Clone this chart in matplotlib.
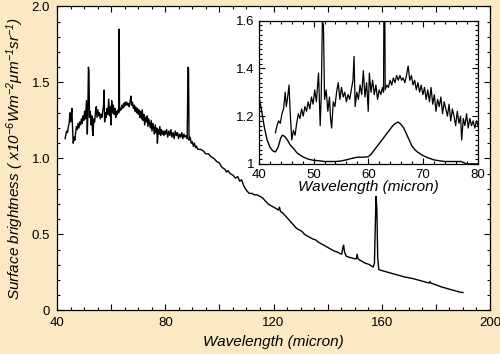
import numpy as np
import matplotlib
matplotlib.use("Agg")
import matplotlib.pyplot as plt
from matplotlib.ticker import MultipleLocator, FixedLocator, FuncFormatter

plt.rcParams['font.family'] = ['Liberation Sans', 'DejaVu Sans']
plt.rcParams['mathtext.fontset'] = 'custom'
plt.rcParams['mathtext.rm'] = 'Liberation Sans:italic'
plt.rcParams['mathtext.it'] = 'Liberation Sans:italic'

# --- full spectrum (wavelength in micron, surface brightness) ---------------
wl = [43.0, 43.3, 43.6, 43.9, 44.2, 44.5, 44.8, 45.0, 45.2, 45.5, 45.7, 46.0,
      46.3, 46.6, 46.9, 47.2, 47.5, 47.8, 48.1, 48.4, 48.7, 49.0, 49.3, 49.6,
      49.9, 50.2, 50.5, 50.9, 51.2, 51.4, 51.6, 51.8, 52.0, 52.3, 52.6, 52.9,
      53.1, 53.3, 53.6, 53.9, 54.2, 54.5, 54.8, 55.1, 55.4, 55.7, 56.0, 56.3,
      56.6, 56.9, 57.2, 57.4, 57.6, 57.9, 58.2, 58.5, 58.8, 59.1, 59.4, 59.7,
      60.0, 60.2, 60.5, 60.8, 61.1, 61.4, 61.7, 62.0, 62.3, 62.6, 62.8, 62.9,
      63.0, 63.1, 63.4, 63.7, 64.0, 64.3, 64.6, 64.9, 65.2, 65.5, 65.8, 66.1,
      66.4, 66.7, 67.0, 67.3, 67.6, 67.9, 68.2, 68.5, 68.8, 69.1, 69.4, 69.7,
      70.0, 70.3, 70.6, 70.9, 71.2, 71.5, 71.8, 72.1, 72.4, 72.7, 73.0, 73.3,
      73.6, 73.9, 74.2, 74.5, 74.8, 75.1, 75.4, 75.7, 76.0, 76.3, 76.6, 76.9,
      77.1, 77.4, 77.7, 78.0, 78.3, 78.6, 78.9, 79.2, 79.5, 79.8, 80.1, 80.5,
      80.9, 81.3, 81.7, 82.1, 82.5, 82.9, 83.3, 83.7, 84.1, 84.5, 84.9, 85.3,
      85.7, 86.1, 86.5, 86.9, 87.3, 87.7, 88.1, 88.4, 88.6, 88.8, 89.2, 89.6,
      90.0, 90.4, 90.8, 91.2, 91.6, 92.0, 93.0, 94.0, 95.0, 96.0, 97.0, 98.0,
      99.0, 100.0, 101.0, 102.0, 102.6, 103.2, 104.0, 105.0, 106.0, 106.8,
      107.5, 108.2, 109.0, 110.0, 111.0, 112.0, 113.0, 114.0, 115.0, 116.0,
      117.0, 118.0, 119.0, 120.0, 121.0, 121.8, 122.2, 122.6, 123.5, 124.5,
      125.5, 126.5, 127.5, 128.5, 129.5, 130.5, 131.5, 132.5, 133.5, 134.5,
      135.5, 136.5, 137.5, 138.5, 139.5, 140.5, 141.5, 142.5, 143.5, 144.5,
      145.2, 145.6, 145.9, 146.3, 147.0, 148.0, 149.0, 150.0, 150.6, 150.9,
      151.2, 152.0, 153.0, 154.0, 155.0, 156.0, 156.8, 157.3, 157.6, 157.9,
      158.2, 158.5, 158.9, 159.5, 160.5, 161.5, 162.5, 163.5, 164.5, 165.5,
      166.5, 167.5, 168.5, 169.5, 170.5, 171.5, 172.5, 173.5, 174.5, 175.5,
      176.5, 177.5, 177.8, 178.2, 179.0, 180.0, 181.0, 182.0, 183.0, 184.0,
      185.0, 186.0, 187.0, 188.0, 189.0, 190.0]
sb = [1.13, 1.16, 1.18, 1.17, 1.21, 1.23, 1.30, 1.24, 1.27, 1.33, 1.22, 1.10,
      1.14, 1.12, 1.17, 1.21, 1.19, 1.23, 1.20, 1.24, 1.22, 1.26, 1.23, 1.28,
      1.25, 1.31, 1.26, 1.38, 1.16, 1.29, 1.60, 1.58, 1.27, 1.31, 1.22, 1.28,
      1.19, 1.15, 1.26, 1.24, 1.30, 1.34, 1.27, 1.32, 1.28, 1.30, 1.26, 1.29,
      1.27, 1.31, 1.35, 1.45, 1.24, 1.30, 1.27, 1.33, 1.29, 1.39, 1.28, 1.34,
      1.22, 1.38, 1.30, 1.35, 1.29, 1.33, 1.27, 1.31, 1.29, 1.32, 1.30, 1.85,
      1.84, 1.31, 1.33, 1.32, 1.35, 1.33, 1.36, 1.34, 1.37, 1.35, 1.37, 1.35,
      1.36, 1.34, 1.37, 1.41, 1.35, 1.37, 1.33, 1.35, 1.31, 1.34, 1.30, 1.33,
      1.29, 1.32, 1.27, 1.31, 1.26, 1.32, 1.25, 1.29, 1.22, 1.27, 1.24, 1.28,
      1.21, 1.26, 1.23, 1.20, 1.25, 1.18, 1.23, 1.20, 1.16, 1.22, 1.17, 1.20,
      1.10, 1.19, 1.16, 1.21, 1.15, 1.19, 1.16, 1.18, 1.15, 1.18, 1.16, 1.19,
      1.14, 1.18, 1.15, 1.19, 1.14, 1.17, 1.13, 1.18, 1.15, 1.17, 1.13, 1.16,
      1.14, 1.17, 1.13, 1.16, 1.14, 1.15, 1.13, 1.60, 1.59, 1.12, 1.14, 1.10,
      1.11, 1.08, 1.10, 1.07, 1.08, 1.06, 1.06, 1.05, 1.03, 1.03, 1.01, 1.00,
      0.98, 0.97, 0.94, 0.93, 0.91, 0.92, 0.90, 0.89, 0.87, 0.88,
      0.85, 0.86, 0.82, 0.79, 0.77, 0.77, 0.76, 0.76, 0.75, 0.74,
      0.72, 0.70, 0.69, 0.68, 0.67, 0.66, 0.68, 0.65, 0.64, 0.62,
      0.60, 0.58, 0.56, 0.54, 0.53, 0.52, 0.50, 0.49, 0.48, 0.47,
      0.465, 0.45, 0.44, 0.43, 0.42, 0.41, 0.40, 0.39, 0.385, 0.375,
      0.37, 0.41, 0.43, 0.38, 0.355, 0.35, 0.345, 0.34, 0.34, 0.37,
      0.34, 0.33, 0.32, 0.31, 0.305, 0.295, 0.285, 0.31, 0.55, 0.75,
      0.66, 0.35, 0.27, 0.265, 0.26, 0.255, 0.25, 0.245, 0.24, 0.235,
      0.23, 0.225, 0.22, 0.217, 0.213, 0.21, 0.205, 0.20, 0.195, 0.19,
      0.185, 0.18, 0.19, 0.18, 0.175, 0.168, 0.162, 0.155, 0.15, 0.145,
      0.14, 0.135, 0.13, 0.125, 0.12, 0.118]

# --- smooth lower curve shown only in the inset -----------------------------
wl_low = [40.0, 40.5, 41.0, 41.5, 42.0, 42.5, 43.0, 43.5, 44.0, 44.3, 44.7,
          45.2, 45.7, 46.3, 47.0, 48.0, 49.0, 50.0, 51.0, 52.0, 53.0, 54.0,
          55.0, 56.0, 57.0, 58.0, 59.0, 60.0, 60.5, 61.0, 61.5, 62.0, 62.5,
          63.0, 63.5, 64.0, 64.5, 65.0, 65.5, 66.0, 66.5, 67.0, 67.5, 68.0,
          68.5, 69.0, 70.0, 71.0, 72.0, 73.0, 74.0, 75.0, 76.0, 77.0, 77.5,
          78.0, 79.0, 80.0]
sb_low = [1.28, 1.22, 1.15, 1.10, 1.07, 1.055, 1.05, 1.07, 1.11, 1.12, 1.115,
          1.10, 1.08, 1.065, 1.045, 1.03, 1.02, 1.015, 1.013, 1.01, 1.01, 1.01,
          1.012, 1.017, 1.023, 1.028, 1.028, 1.03, 1.04, 1.055, 1.07, 1.085, 1.10,
          1.115, 1.13, 1.145, 1.16, 1.17, 1.175, 1.165, 1.15, 1.125, 1.10, 1.075,
          1.06, 1.05, 1.035, 1.025, 1.017, 1.013, 1.01, 1.01, 1.01, 1.01, 1.005,
          1.0, 1.0, 1.0]

BG = "#fce8c3"
fig = plt.figure(figsize=(5.0, 3.54), dpi=100, facecolor=BG)

# === main panel =============================================================
ax = fig.add_axes([0.114, 0.123, 0.866, 0.859])
ax.plot(wl, sb, color="k", lw=1.0)
ax.set_xlim(40, 200); ax.set_ylim(0, 2.0)
ax.xaxis.set_major_locator(FixedLocator([40, 60, 80, 100, 120, 140, 160, 180, 200]))
ax.xaxis.set_minor_locator(MultipleLocator(5))
ax.xaxis.set_major_formatter(FuncFormatter(lambda v, p: f"{v:.0f}" if v % 40 == 0 else ""))
ax.yaxis.set_major_locator(MultipleLocator(0.5))
ax.yaxis.set_minor_locator(MultipleLocator(0.1))
ax.yaxis.set_major_formatter(FuncFormatter(lambda v, p: "0" if v == 0 else f"{v:.1f}"))
ax.tick_params(which="both", direction="in", top=True, right=True, labelsize=9.5, width=0.8)
ax.tick_params(which="major", length=4.5)
ax.tick_params(which="minor", length=2.5)
ax.tick_params(axis="x", pad=5)
ax.tick_params(axis="y", pad=5)
for s in ax.spines.values(): s.set_linewidth(0.9)
ax.set_xlabel("Wavelength (micron)", fontsize=11, style="italic", labelpad=4)
ax.set_ylabel("Surface brightness ( x10$^{-6}$Wm$^{-2}$μm$^{-1}$sr$^{-1}$)",
              fontsize=11, style="italic", labelpad=4)

# === inset (zoom on 40-80 micron) ===========================================
ins = fig.add_axes([0.518, 0.537, 0.437, 0.405])
ins.plot(wl, sb, color="k", lw=0.9)
ins.plot(wl_low, sb_low, color="k", lw=1.0)
ins.set_xlim(40, 80); ins.set_ylim(1.0, 1.6)
ins.xaxis.set_major_locator(MultipleLocator(10))
ins.xaxis.set_minor_locator(MultipleLocator(2))
ins.yaxis.set_major_locator(MultipleLocator(0.2))
ins.yaxis.set_minor_locator(MultipleLocator(0.02))
ins.yaxis.set_major_formatter(FuncFormatter(lambda v, p: "1" if abs(v - 1) < 1e-6 else f"{v:.1f}"))
ins.tick_params(which="both", direction="in", top=True, right=True, labelsize=9.5, width=0.8)
ins.tick_params(which="major", length=4)
ins.tick_params(which="minor", length=2.2)
ins.tick_params(axis="x", pad=4)
ins.tick_params(axis="y", pad=3)
for s in ins.spines.values(): s.set_linewidth(0.9)
ins.set_xlabel("Wavelength (micron)", fontsize=11, style="italic", labelpad=-1)

plt.savefig("out.png", dpi=100, facecolor=BG)
